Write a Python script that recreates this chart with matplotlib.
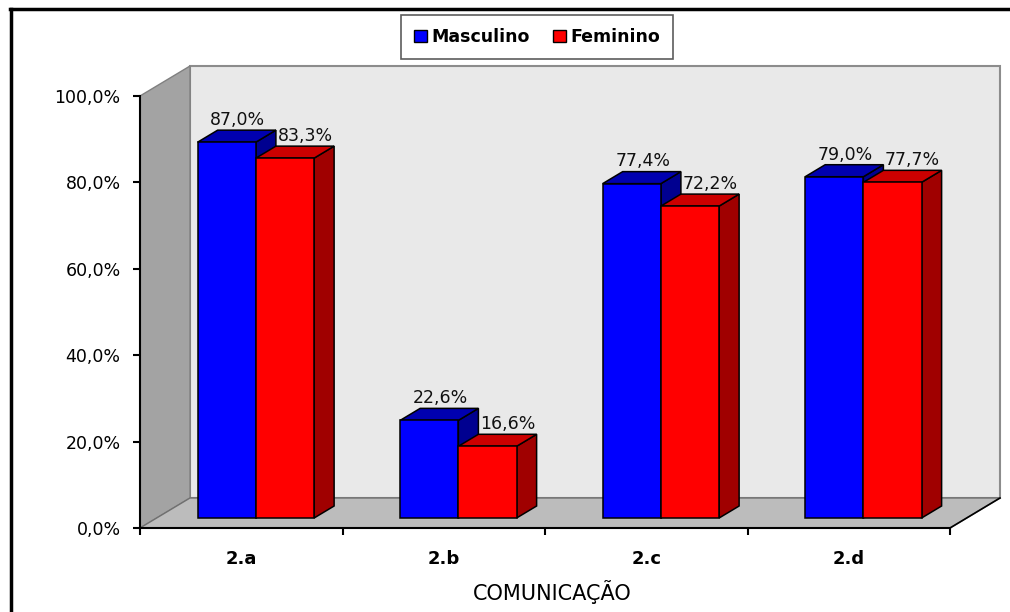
import matplotlib.pyplot as plt
from matplotlib.patches import Polygon, Rectangle
from matplotlib.lines import Line2D

categories = ['2.a', '2.b', '2.c', '2.d']
masculino = [87.0, 22.6, 77.4, 79.0]
feminino = [83.3, 16.6, 72.2, 77.7]
series_names = ['Masculino', 'Feminino']
y_ticks = [0, 20, 40, 60, 80, 100]

front_colors = ['#0000ff', '#ff0000']
top_colors = ['#0000b0', '#cc0000']
side_colors = ['#000090', '#a00000']

W, H = 1010, 612
fig = plt.figure(figsize=(W / 100, H / 100), dpi=100)
fig.patch.set_facecolor('white')

# plot box in pixels: x 140..950, y (from bottom) 84..516
ax = fig.add_axes([140 / W, 84 / H, 810 / W, 432 / H])
ax.set_xlim(0, len(categories))
ax.set_ylim(0, 100)
ax.set_facecolor('none')

# oblique depth of the 3D box, converted from pixels to data units
px_per_cat = 810 / len(categories)
px_per_pct = 432 / 100
DX = 50 / px_per_cat
DY = 30 / px_per_pct
F0 = 1 / 3      # bars start a third of the way into the floor
BD = 0.4        # bar depth as a share of the floor depth
ncat = len(categories)

# walls and floor
side_wall = Polygon([(0, 0), (DX, DY), (DX, 100 + DY), (0, 100)],
                    closed=True, fc='#a3a3a3', ec='#808080', lw=1, zorder=0.5, clip_on=False)
back_wall = Polygon([(DX, DY), (ncat + DX, DY), (ncat + DX, 100 + DY), (DX, 100 + DY)],
                    closed=True, fc='#e9e9e9', ec='#8c8c8c', lw=1.5, zorder=0.4, clip_on=False)
floor = Polygon([(0, 0), (ncat, 0), (ncat + DX, DY), (DX, DY)],
                closed=True, fc='#bcbcbc', ec='#707070', lw=1, zorder=0.6, clip_on=False)
for p in (back_wall, side_wall, floor):
    ax.add_patch(p)
ax.plot([ncat, ncat + DX], [0, DY], color='black', lw=1.2, zorder=0.7, clip_on=False)


def draw_bar(x0, w, h, k, z):
    fx, fy = F0 * DX, F0 * DY
    bx, by = BD * DX, BD * DY
    x0 = x0 + fx
    y0, y1 = fy, fy + h
    front = [(x0, y0), (x0 + w, y0), (x0 + w, y1), (x0, y1)]
    top = [(x0, y1), (x0 + w, y1), (x0 + w + bx, y1 + by), (x0 + bx, y1 + by)]
    side = [(x0 + w, y0), (x0 + w + bx, y0 + by), (x0 + w + bx, y1 + by), (x0 + w, y1)]
    for pts, c in ((side, side_colors[k]), (top, top_colors[k]), (front, front_colors[k])):
        ax.add_patch(Polygon(pts, closed=True, fc=c, ec='black', lw=1.1,
                             joinstyle='miter', zorder=z, clip_on=False))


bar_w = 0.2875
label_shift = [0.55, 1.0]
z = 3
for i in range(ncat):
    left = i + 0.49 - bar_w
    for k, vals in enumerate((masculino, feminino)):
        x0 = left + k * bar_w
        draw_bar(x0, bar_w, vals[i], k, z)
        z += 1
    for k, vals in enumerate((masculino, feminino)):
        x0 = left + k * bar_w
        lx = x0 + bar_w / 2 + F0 * DX + label_shift[k] * BD * DX
        ly = vals[i] + (F0 + BD) * DY + 1.2
        ax.text(lx, ly, f'{vals[i]:.1f}%'.replace('.', ','), ha='center', va='baseline',
                fontsize=12.5, color='#111111', zorder=20, clip_on=False)

# axes
ax.spines['top'].set_visible(False)
ax.spines['right'].set_visible(False)
ax.spines['left'].set_linewidth(1.5)
ax.spines['bottom'].set_linewidth(1.5)
ax.spines['left'].set_zorder(2)
ax.spines['bottom'].set_zorder(2)

ax.set_yticks(y_ticks)
ax.set_yticklabels([f'{t:.1f}%'.replace('.', ',') for t in y_ticks])
ax.tick_params(axis='y', length=5, width=1.5, pad=9, labelsize=12.5)

ax.set_xticks(range(ncat + 1))
ax.set_xticklabels([])
ax.set_xticks([i + 0.5 for i in range(ncat)], minor=True)
ax.set_xticklabels(categories, minor=True, fontsize=13, fontweight='bold')
ax.tick_params(axis='x', which='major', length=5, width=1.5)
ax.tick_params(axis='x', which='minor', length=0, pad=16)

fig.text(552 / W, 20 / H, 'COMUNICAÇÃO', ha='center', va='center', fontsize=15)

# legend
handles = [Rectangle((0, 0), 1, 1, fc=c, ec='black', lw=1) for c in front_colors]
leg = fig.legend(handles, series_names, loc='center', bbox_to_anchor=(537 / W, 1 - 37 / H),
                 ncol=2, frameon=True, fancybox=False, edgecolor='#333333',
                 handlelength=0.75, handleheight=0.75, handletextpad=0.25, columnspacing=1.3,
                 borderpad=0.75, borderaxespad=0, prop={'weight': 'bold', 'size': 12.5})
leg.get_frame().set_linewidth(1.2)

# outer frame (only top and left edges fall inside the image)
fig.add_artist(Line2D([10 / W, 1], [1 - 9 / H, 1 - 9 / H], color='black', lw=2.5,
                      solid_capstyle='projecting'))
fig.add_artist(Line2D([11 / W, 11 / W], [0, 1 - 9 / H], color='black', lw=2.5,
                      solid_capstyle='projecting'))

fig.savefig('out.png', dpi=100)
